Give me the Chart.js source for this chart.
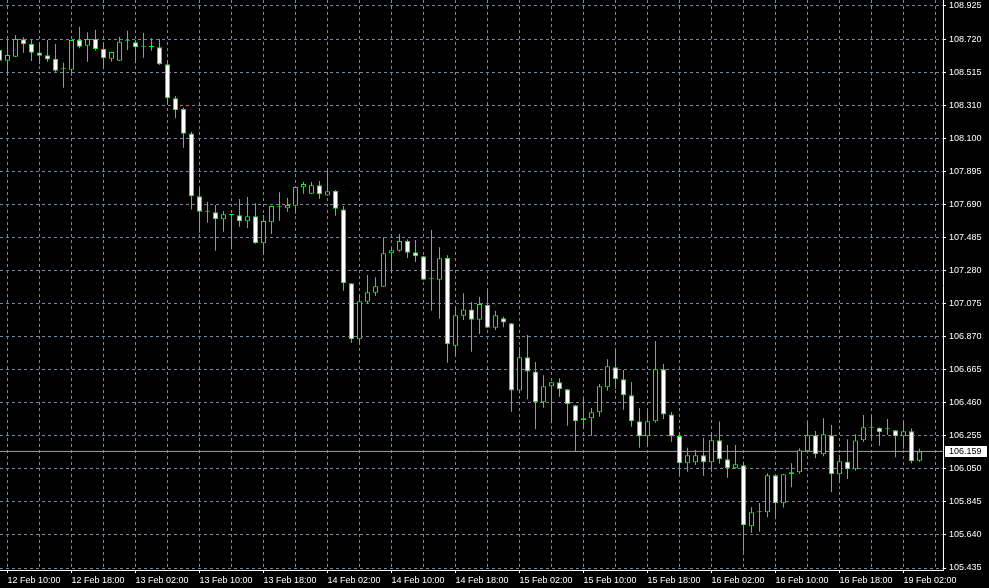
<!DOCTYPE html>
<html>
<head>
<meta charset="utf-8">
<title>H1 candles</title>
<script src="https://cdn.jsdelivr.net/npm/chart.js@4.4.0/dist/chart.umd.min.js"></script>
<style>
  html, body { margin: 0; padding: 0; background: #000; }
  canvas { display: block; }
</style>
</head>
<body>
<canvas id="candle-chart" width="989" height="588"></canvas>
<script>
// hourly bars, bar index of the first value (it is cut by the left edge)
var first_index = -1;

var opens = [
  108.652, 108.585, 108.610, 108.718, 108.689, 108.637, 108.619, 108.596, 108.532, 108.529,
  108.714, 108.678, 108.720, 108.658, 108.598, 108.585, 108.706, 108.700, 108.672, 108.670,
  108.669, 108.563, 108.352, 108.285, 108.134, 107.743, 107.648, 107.644, 107.600, 107.627,
  107.625, 107.588, 107.619, 107.451, 107.582, 107.675, 107.669, 107.685, 107.799, 107.759,
  107.812, 107.748, 107.776, 107.662, 107.203, 106.855, 107.089, 107.145, 107.182, 107.389,
  107.405, 107.466, 107.396, 107.371, 107.228, 107.225, 107.360, 106.815, 107.002, 107.041,
  106.977, 107.068, 106.927, 106.986, 106.955, 106.538, 106.743, 106.656, 106.464, 106.563,
  106.588, 106.545, 106.445, 106.365, 106.365, 106.402, 106.557, 106.681, 106.607, 106.508,
  106.346, 106.253, 106.346, 106.669, 106.389, 106.255, 106.085, 106.091, 106.135, 106.091,
  106.228, 106.110, 106.054, 106.073, 105.694, 105.781, 105.781, 106.011, 105.837, 106.017,
  106.029, 106.160, 106.259, 106.141, 106.259, 106.017, 106.095, 106.048, 106.228, 106.306,
  106.306, 106.296, 106.290, 106.253, 106.284, 106.101
];
var highs = [
  108.677, 108.714, 108.745, 108.731, 108.714, 108.693, 108.714, 108.689, 108.573, 108.716,
  108.796, 108.762, 108.778, 108.693, 108.641, 108.734, 108.772, 108.714, 108.759, 108.724,
  108.720, 108.590, 108.366, 108.294, 108.144, 107.793, 107.710, 107.689, 107.652, 107.631,
  107.726, 107.739, 107.700, 107.627, 107.685, 107.768, 107.735, 107.803, 107.834, 107.832,
  107.838, 107.900, 107.782, 107.683, 107.205, 107.135, 107.254, 107.240, 107.489, 107.427,
  107.509, 107.476, 107.472, 107.373, 107.534, 107.427, 107.377, 107.058, 107.141, 107.087,
  107.120, 107.161, 107.033, 106.996, 106.957, 106.806, 106.882, 106.714, 106.632, 106.590,
  106.613, 106.547, 106.447, 106.489, 106.429, 106.578, 106.731, 106.793, 106.665, 106.590,
  106.429, 106.412, 106.845, 106.702, 106.404, 106.278, 106.182, 106.168, 106.244, 106.278,
  106.344, 106.199, 106.199, 106.095, 105.812, 105.839, 106.023, 106.013, 106.019, 106.085,
  106.178, 106.340, 106.286, 106.365, 106.323, 106.137, 106.234, 106.265, 106.385, 106.385,
  106.308, 106.360, 106.292, 106.348, 106.302, 106.176
];
var lows = [
  108.577, 108.492, 108.608, 108.635, 108.584, 108.563, 108.579, 108.517, 108.418, 108.492,
  108.662, 108.579, 108.647, 108.532, 108.579, 108.583, 108.652, 108.569, 108.604, 108.647,
  108.558, 108.315, 108.228, 108.045, 107.662, 107.517, 107.579, 107.405, 107.523, 107.414,
  107.554, 107.545, 107.449, 107.383, 107.507, 107.592, 107.648, 107.635, 107.759, 107.757,
  107.726, 107.745, 107.623, 107.157, 106.834, 106.830, 107.079, 107.124, 107.180, 107.265,
  107.399, 107.360, 107.335, 107.222, 107.033, 106.983, 106.710, 106.747, 106.975, 106.778,
  106.888, 106.925, 106.913, 106.930, 106.406, 106.520, 106.483, 106.296, 106.430, 106.334,
  106.499, 106.319, 106.162, 106.296, 106.257, 106.375, 106.536, 106.548, 106.418, 106.312,
  106.182, 106.188, 106.337, 106.358, 106.219, 106.017, 106.033, 106.075, 106.008, 106.033,
  106.083, 105.996, 106.052, 105.536, 105.654, 105.660, 105.750, 105.737, 105.810, 105.936,
  106.021, 106.147, 106.116, 106.129, 105.905, 105.961, 105.988, 106.039, 106.219, 106.241,
  106.194, 106.261, 106.122, 106.176, 106.085, 106.095
];
var closes = [
  108.585, 108.621, 108.720, 108.687, 108.635, 108.616, 108.592, 108.523, 108.532, 108.714,
  108.672, 108.720, 108.658, 108.600, 108.639, 108.703, 108.706, 108.669, 108.672, 108.670,
  108.563, 108.352, 108.277, 108.132, 107.743, 107.648, 107.648, 107.600, 107.631, 107.627,
  107.588, 107.619, 107.451, 107.590, 107.683, 107.675, 107.689, 107.801, 107.820, 107.812,
  107.756, 107.774, 107.666, 107.203, 106.855, 107.091, 107.147, 107.184, 107.389, 107.408,
  107.466, 107.393, 107.371, 107.225, 107.228, 107.358, 106.824, 107.004, 107.041, 106.977,
  107.074, 106.927, 107.004, 106.960, 106.538, 106.743, 106.656, 106.464, 106.563, 106.588,
  106.545, 106.452, 106.346, 106.352, 106.402, 106.563, 106.688, 106.607, 106.508, 106.346,
  106.253, 106.346, 106.669, 106.389, 106.253, 106.085, 106.135, 106.135, 106.091, 106.228,
  106.110, 106.054, 106.079, 105.700, 105.781, 105.781, 106.011, 105.837, 106.017, 106.029,
  106.166, 106.259, 106.141, 106.265, 106.017, 106.098, 106.048, 106.226, 106.309, 106.306,
  106.278, 106.296, 106.253, 106.284, 106.098, 106.159
];

// time labels sit on every 8th bar starting at bar 0, grid on every 4th
var x_labels = [
  '12 Feb 10:00', '12 Feb 18:00', '13 Feb 02:00', '13 Feb 10:00', '13 Feb 18:00',
  '14 Feb 02:00', '14 Feb 10:00', '14 Feb 18:00', '15 Feb 02:00', '15 Feb 10:00',
  '15 Feb 18:00', '16 Feb 02:00', '16 Feb 10:00', '16 Feb 18:00', '19 Feb 02:00'
];
var x_label_step = 8;
var x_grid_step = 4;

// price labels, top to bottom (evenly spaced)
var y_labels = [
  '108.925', '108.720', '108.515', '108.310', '108.100', '107.895', '107.690', '107.485', '107.280',
  '107.075', '106.870', '106.665', '106.460', '106.255', '106.050', '105.845', '105.640', '105.435'
];
var y_top = 108.925;
var y_bottom = 105.435;

// look
var bull_fill   = '#000000';
var bear_fill   = '#ffffff';
var candle_line = '#00ff00';
var grid_color  = '#778899';
var price_line  = '#a0a0a0';
var text_color  = '#ffffff';
var axis_font   = {family: 'Liberation Sans', size: 9};

// plot box: 943 x 570 px, axes strips to the right and below
var plot_w = 943;
var plot_h = 570;
var bar_px = 8;          // px per hourly bar
var first_bar_px = 7.5;  // centre of bar 0
var y_top_px = 6;        // pixel row of the top price label
var y_bottom_px = 568;   // pixel row of the bottom price label

var px_per_unit = (y_bottom_px - y_top_px) / (y_top - y_bottom);
var y_max = y_top + y_top_px / px_per_unit;
var y_min = y_max - plot_h / px_per_unit;
var x_min = -first_bar_px / bar_px;
var x_max = x_min + plot_w / bar_px;

var last_close = closes[closes.length - 1];

function make_candle_data(){
  var bodies = [], wicks = [], fills = [];
  for (var i = 0; i < opens.length; i++){
    var x = first_index + i;
    bodies.push({x: x, y: [opens[i], closes[i]]});
    wicks.push({x: x, y: [lows[i], highs[i]]});
    fills.push(closes[i] > opens[i] ? bull_fill : bear_fill); // MT4 green-on-black: bull hollow, bear white
  }
  return {bodies: bodies, wicks: wicks, fills: fills};
}

var background_plugin = {
  id: 'black_background',
  beforeDraw: function(chart){
    var ctx = chart.ctx;
    ctx.save();
    ctx.fillStyle = '#000000';
    ctx.fillRect(0, 0, chart.width, chart.height);
    ctx.restore();
  }
};

// white box with the last price on the price axis
var last_price_plugin = {
  id: 'last_price_box',
  afterDraw: function(chart){
    var ctx = chart.ctx;
    var y = chart.scales.y.getPixelForValue(last_close);
    var left = chart.chartArea.right + 2;
    ctx.save();
    ctx.fillStyle = '#ffffff';
    ctx.fillRect(left, Math.round(y) - 5, 42, 11);
    ctx.fillStyle = '#000000';
    ctx.font = axis_font.size + 'px ' + axis_font.family;
    ctx.textBaseline = 'middle';
    ctx.textAlign = 'left';
    ctx.fillText(last_close.toFixed(3), chart.chartArea.right + 6, y);
    ctx.restore();
  }
};

function create_candle_chart(){
  var candle_data = make_candle_data();
  var ctx = document.getElementById('candle-chart').getContext('2d');
  var config = {
    type: 'bar',
    data: {
      datasets: [
        {
          // bodies on top
          data: candle_data.bodies,
          backgroundColor: candle_data.fills,
          borderColor: candle_line,
          borderWidth: 1,
          borderSkipped: false,
          grouped: false,
          barThickness: 5,
          maxBarThickness: 5,
          minBarLength: 1,
          inflateAmount: 0,
          order: 0
        },
        {
          data: candle_data.wicks,
          backgroundColor: candle_line,
          borderWidth: 0,
          grouped: false,
          barThickness: 1,
          maxBarThickness: 1,
          inflateAmount: 0,
          order: 1
        },
        {
          type: 'line',
          data: [{x: x_min, y: last_close}, {x: x_max, y: last_close}],
          borderColor: price_line,
          borderWidth: 1,
          pointRadius: 0,
          order: 2
        }
      ]
    },
    options: {
      responsive: false,
      animation: false,
      events: [],
      layout: {padding: 0},
      plugins: {
        legend: {display: false},
        tooltip: {enabled: false},
        title: {display: false}
      },
      scales: {
        x: {
          type: 'linear',
          min: x_min,
          max: x_max,
          bounds: 'data',
          offset: false,
          afterBuildTicks: function(scale){
            var t = [];
            for (var v = 0; v <= x_max; v += x_grid_step) t.push({value: v});
            scale.ticks = t;
          },
          afterFit: function(scale){
            scale.height = 588 - plot_h;
            scale.paddingLeft = 0;
            scale.paddingRight = 0;
          },
          ticks: {
            autoSkip: false,
            maxRotation: 0,
            minRotation: 0,
            align: 'start',
            padding: 2,
            color: text_color,
            font: axis_font,
            callback: function(value){
              if (value % x_label_step !== 0) return '';
              return x_labels[value / x_label_step] || '';
            }
          },
          grid: {
            offset: false,
            color: grid_color,
            tickLength: 3,
            tickColor: function(c){
              return (c.tick && c.tick.value % x_label_step === 0) ? text_color : 'rgba(0,0,0,0)';
            }
          },
          border: {color: text_color, dash: [3, 3]}
        },
        y: {
          type: 'linear',
          position: 'right',
          min: y_min,
          max: y_max,
          bounds: 'data',
          afterBuildTicks: function(scale){
            var step = (y_top - y_bottom) / (y_labels.length - 1);
            scale.ticks = y_labels.map(function(_, i){ return {value: y_top - i * step}; });
          },
          afterFit: function(scale){
            scale.width = 989 - plot_w;
            scale.paddingTop = 0;
            scale.paddingBottom = 0;
          },
          ticks: {
            autoSkip: false,
            padding: 3,
            color: text_color,
            font: axis_font,
            callback: function(value, index){ return y_labels[index]; }
          },
          grid: {
            color: grid_color,
            tickLength: 3,
            tickColor: text_color
          },
          border: {color: text_color, dash: [3, 3]}
        }
      }
    },
    plugins: [background_plugin, last_price_plugin]
  };
  return new Chart(ctx, config);
}

var candle_chart = create_candle_chart();
</script>
</body>
</html>
